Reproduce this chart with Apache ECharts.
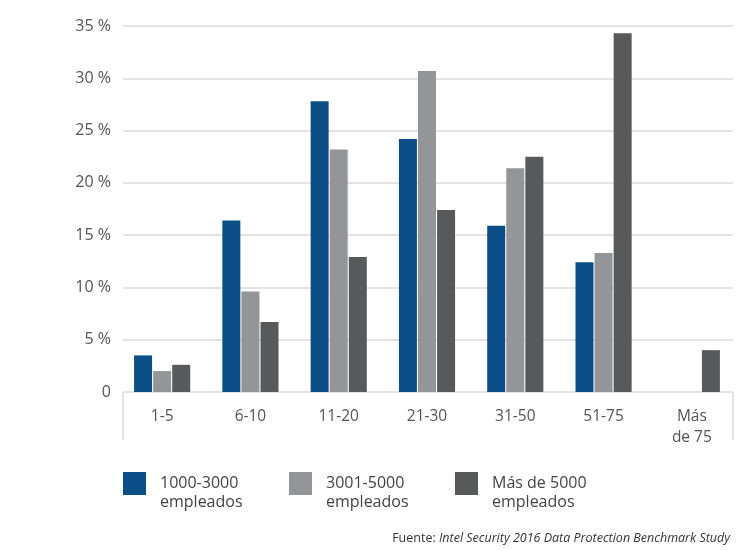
<!DOCTYPE html>
<html>
<head>
<meta charset="utf-8">
<script src="https://cdn.jsdelivr.net/npm/echarts@6/dist/echarts.min.js"></script>
<style>html,body{margin:0;padding:0;background:#fff}#c{width:736px;height:550px}</style>
</head>
<body>
<div id="c"></div>
<script>
var categories = ['1-5', '6-10', '11-20', '21-30', '31-50', '51-75', 'Más\nde 75'];
var seriesNames = ['1000-3000\nempleados', '3001-5000\nempleados', 'Más de 5000\nempleados'];
var s1000_3000 = [3.5, 16.4, 27.8, 24.2, 15.9, 12.4, null];
var s3001_5000 = [2.0, 9.6, 23.2, 30.7, 21.4, 13.3, null];
var sMas5000 = [2.6, 6.7, 12.9, 17.4, 22.5, 34.3, 4.0];
var yTicks = [0, 5, 10, 15, 20, 25, 30, 35];
var colors = ['#0b4f86', '#939598', '#58595b'];
var FONT = 'Open Sans';

var chart = echarts.init(document.getElementById('c'), null, {renderer: 'canvas'});
var allData = [s1000_3000, s3001_5000, sMas5000];
chart.setOption({
  animation: false,
  backgroundColor: '#fff',
  textStyle: {fontFamily: FONT},
  grid: [
    {left: 123, right: 3, top: 26, bottom: 158},
    {left: 118, right: -4, top: 26, bottom: 158}
  ],
  xAxis: [
    {gridIndex: 0, type: 'category', data: categories, show: false},
    {gridIndex: 1, type: 'category', data: categories,
     axisLine: {show: false}, axisTick: {show: false},
     axisLabel: {color: '#555', fontSize: 15.5, lineHeight: 21, margin: 14, fontFamily: FONT, interval: 0}}
  ],
  yAxis: [
    {gridIndex: 0, type: 'value', min: yTicks[0], max: yTicks[yTicks.length - 1], interval: 5,
     axisLine: {show: false}, axisTick: {show: false},
     axisLabel: {color: '#555', fontSize: 16, margin: 12, fontFamily: FONT,
       formatter: function (v) { return v === 0 ? '0' : v + ' %'; }},
     splitLine: {lineStyle: {color: '#e3e3e3', width: 2}}},
    {gridIndex: 1, type: 'value', min: yTicks[0], max: yTicks[yTicks.length - 1], interval: 5, show: false}
  ],
  legend: {
    left: 123, top: 455, orient: 'horizontal', padding: 0,
    itemWidth: 23, itemHeight: 23, itemGap: 9, icon: 'rect',
    data: seriesNames,
    formatter: function (n) { return '\n' + n; },
    textStyle: {color: '#444', fontSize: 16, lineHeight: 19, width: 120, padding: [0, 0, 0, 9], fontFamily: FONT}
  },
  title: {
    right: 1, bottom: 0,
    text: 'Fuente: {i|Intel Security 2016 Data Protection Benchmark Study}',
    textStyle: {fontSize: 12.5, fontWeight: 'normal', color: '#333', fontFamily: FONT,
      rich: {i: {fontStyle: 'italic', fontSize: 12.5, color: '#333', fontFamily: FONT}}}
  },
  graphic: [
    {type: 'line', shape: {x1: 123, y1: 392, x2: 123, y2: 440}, style: {stroke: '#e3e3e3', lineWidth: 2}},
    {type: 'line', shape: {x1: 733, y1: 392, x2: 733, y2: 440}, style: {stroke: '#e3e3e3', lineWidth: 2}}
  ],
  series: seriesNames.map(function (n, i) {
    return {
      name: n, type: 'bar', xAxisIndex: 1, yAxisIndex: 1,
      data: allData[i], barWidth: 18, barGap: '6%',
      itemStyle: {color: colors[i]}
    };
  })
});
</script>
</body>
</html>
